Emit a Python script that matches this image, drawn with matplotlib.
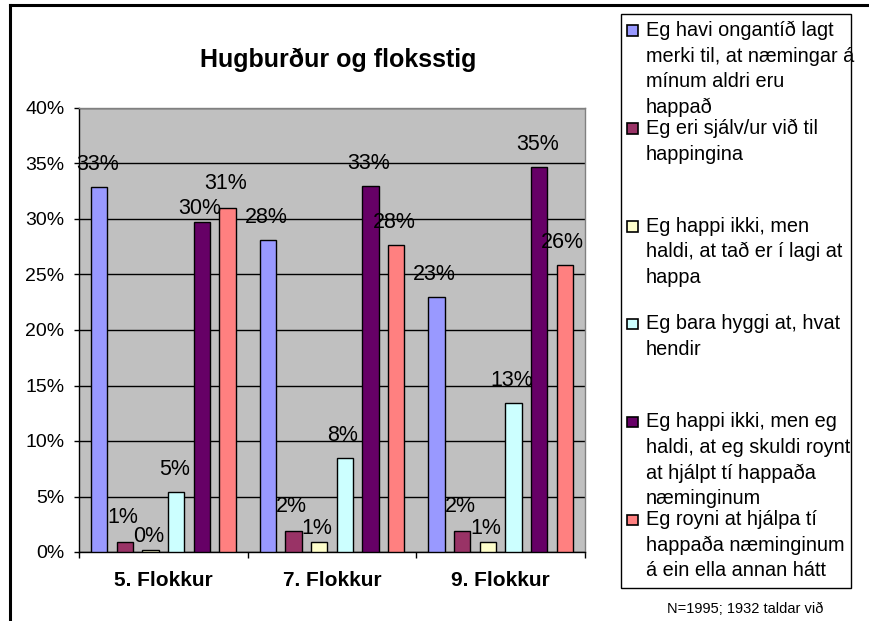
import matplotlib
matplotlib.use("Agg")
import matplotlib.pyplot as plt
from matplotlib.patches import Rectangle
from matplotlib.lines import Line2D
import numpy as np

plt.rcParams['font.family'] = ['Liberation Sans', 'DejaVu Sans']

categories = ["5. Flokkur", "7. Flokkur", "9. Flokkur"]

series_labels = [
    "Eg havi ongantíð lagt\nmerki til, at næmingar á\nmínum aldri eru\nhappað",
    "Eg eri sjálv/ur við til\nhappingina",
    "Eg happi ikki, men\nhaldi, at tað er í lagi at\nhappa",
    "Eg bara hyggi at, hvat\nhendir",
    "Eg happi ikki, men eg\nhaldi, at eg skuldi roynt\nat hjálpt tí happaða\nnæminginum",
    "Eg royni at hjálpa tí\nhappaða næminginum\ná ein ella annan hátt",
]

# percent per series, one value per category
never_noticed = [32.9, 28.1, 23.0]
take_part = [0.9, 1.9, 1.9]
think_ok = [0.2, 0.9, 0.9]
just_watch = [5.4, 8.45, 13.4]
should_help = [29.7, 33.0, 34.7]
try_help = [31.0, 27.7, 25.9]
series_values = [never_noticed, take_part, think_ok, just_watch, should_help, try_help]

colors = ['#9999FF', '#993366', '#FFFFCC', '#CCFFFF', '#660066', '#FF8080']
yticks = [0, 5, 10, 15, 20, 25, 30, 35, 40]

title = "Hugburður og floksstig"
note = "N=1995; 1932 taldar við"

W, H = 870, 621


def fx(px):
    return px / W


def fy(py):
    return 1 - py / H


fig = plt.figure(figsize=(8.7, 6.21), dpi=100)
ax = fig.add_axes([fx(79), fy(552), (585 - 79) / W, (552 - 108) / H])
ax.set_facecolor('#C0C0C0')

x = np.arange(len(categories)) + 0.5
step = 0.152
width = 0.097
n = len(series_values)
vals_arr = np.array(series_values)

# label gap above bar (pixels); labels of neighbouring bars with close
# values are staggered, as the original does
gaps = np.full(vals_arr.shape, 17.0)
for c in range(vals_arr.shape[1]):
    for i in range(1, n):
        a, b = vals_arr[i - 1, c], vals_arr[i, c]
        if abs(a - b) < 2.5:
            lo, hi = (i - 1, i) if a < b else (i, i - 1)
            gaps[lo, c] = 8
            gaps[hi, c] = 19

for i, (vals, col) in enumerate(zip(series_values, colors)):
    xs = x + (i - (n - 1) / 2) * step
    bars = ax.bar(xs, vals, width, color=col, edgecolor='black',
                  linewidth=1.0, zorder=3)
    for c, (b, v) in enumerate(zip(bars, vals)):
        ax.annotate(f"{v:.0f}%", (b.get_x() + b.get_width() / 2, v),
                    xytext=(-2, gaps[i, c]), textcoords='offset pixels',
                    ha='center', va='baseline', fontsize=15.5, zorder=4)

ax.set_xlim(0, 3)
ax.set_ylim(0, 40)
ax.set_yticks(yticks)
ax.set_yticklabels([f"{t}%" for t in yticks])
ax.yaxis.grid(True, color='black', linewidth=1)
ax.set_axisbelow(True)
ax.tick_params(axis='y', direction='out', length=3.6, width=1,
               labelsize=14, pad=7)

ax.set_xticks([0, 1, 2, 3])
ax.set_xticklabels([])
ax.tick_params(axis='x', which='major', direction='out', length=4.5, width=1)
ax.set_xticks(x, minor=True)
ax.set_xticklabels(categories, minor=True, fontsize=15, fontweight='bold')
ax.tick_params(axis='x', which='minor', length=0, pad=14)

for s in ['left', 'bottom']:
    ax.spines[s].set_color('black')
    ax.spines[s].set_linewidth(1)
for s in ['top', 'right']:
    ax.spines[s].set_color('#808080')
    ax.spines[s].set_linewidth(1)

fig.text(fx(338), fy(67), title, ha='center', va='baseline',
         fontsize=18, fontweight='bold')

# legend drawn by hand to follow the original layout
fig.add_artist(Rectangle((fx(621), fy(588)), fx(851) - fx(621),
                         fy(14) - fy(588), transform=fig.transFigure,
                         facecolor='white', edgecolor='black', linewidth=1))
for i, (label, col) in enumerate(zip(series_labels, colors)):
    base = 36 + i * 97.8
    fig.add_artist(Rectangle((fx(627), fy(base)), fx(638) - fx(627),
                             fy(base - 10.5) - fy(base),
                             transform=fig.transFigure, facecolor=col,
                             edgecolor='black', linewidth=1.2))
    for j, line in enumerate(label.split('\n')):
        fig.text(fx(646), fy(base + j * 25.7), line, ha='left',
                 va='baseline', fontsize=14.3)

fig.text(fx(745), fy(609), note, ha='center', va='center', fontsize=10.5)

fig.add_artist(Line2D([fx(10), 1], [fy(5), fy(5)], color='black',
                      linewidth=2.2, transform=fig.transFigure))
fig.add_artist(Line2D([fx(10), fx(10)], [fy(5), 0], color='black',
                      linewidth=2.2, transform=fig.transFigure))

fig.savefig('out.png', dpi=100)
